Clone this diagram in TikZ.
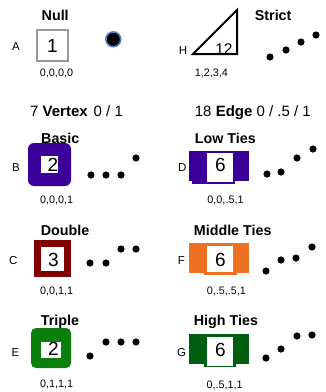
\documentclass[tikz,border=0pt]{standalone}
\usepackage{fontspec}
\setmainfont{Liberation Sans}
\usepackage{tikz}
\definecolor{nullgray}{HTML}{999999}
\definecolor{ringblue}{HTML}{4F81BD}
\definecolor{basicpurple}{HTML}{3A0099}
\definecolor{doublered}{HTML}{800000}
\definecolor{midorange}{HTML}{EE7023}
\definecolor{triplegreen}{HTML}{0B7F0B}
\definecolor{highgreen}{HTML}{005E10}

\begin{document}
\begin{tikzpicture}[
  x=1pt, y=-1pt,
  line join=miter,
  ttl/.style={font=\fontsize{14.3}{16}\selectfont\bfseries, anchor=base west, inner sep=0pt},
  hd/.style={font=\fontsize{15}{17}\selectfont, anchor=base west, inner sep=0pt},
  seq/.style={font=\fontsize{10.8}{12}\selectfont, anchor=base, inner sep=0pt},
  tag/.style={font=\fontsize{11.5}{13}\selectfont, inner sep=0pt},
  num/.style={font=\fontsize{19}{22}\selectfont, inner sep=0pt},
  pale/.style={fill=white},
]
\useasboundingbox[fill=white] (0,0) rectangle (326,392);

% row tags
\foreach \t/\x/\y in {A/16/47, H/183/50.8, B/16/167.8, D/182.3/167.8,
                      C/13.3/260.5, F/181.3/260.5, E/15.5/352.5, G/181.7/352.5} {
  \node[tag] (tag\t) at (\x,\y) {\t};
}

% top: null and strict
\node[ttl] (nullttl) at (41.5,20) {Null};
\draw[nullgray, line width=2.5pt] (37.2,30.2) rectangle (67.8,60.8);
\node[num] (nullnum) at (52.5,46.3) {1};
\node[seq] (nullseq) at (56.5,76.5) {0,0,0,0};
\filldraw[fill=black, draw=ringblue, line width=1.6pt] (113.3,39.3) circle[radius=7.4pt];

\node[ttl] (strictttl) at (254.7,20.5) {Strict};
\draw[line width=2pt] (193,54) -- (237,10) -- (237,54) -- cycle;
\node[font=\fontsize{15.5}{18}\selectfont, inner sep=0pt] (strictnum) at (224,49.5) {12};
\node[seq] (strictseq) at (211.3,76) {1,2,3,4};
\foreach \x/\y in {270/57, 286/50, 301/42, 316/35} {
  \fill (\x,\y) circle[radius=3.6pt];
}

% headings
\node[hd] (vertexhd) at (30,116.5) {7 \textbf{Vertex}\hspace{6pt}0 / 1};
\node[hd] (edgehd) at (194.7,116.5) {18 \textbf{Edge} 0 / .5 / 1};

% left column: vertex types
\node[ttl] (basicttl) at (41,143) {Basic};
\fill[basicpurple, rounded corners=6pt] (28,143) rectangle (71,186);
\fill[pale] (41,156) rectangle (58,173);
\node[num] (basicnum) at (52.8,165.3) {2};
\node[seq] (basicseq) at (56.7,203) {0,0,0,1};
\foreach \x/\y in {91/175, 106/175, 121/175, 136/158} {
  \fill (\x,\y) circle[radius=3.6pt];
}

\node[ttl] (doublettl) at (40.7,235) {Double};
\fill[doublered] (34,240) rectangle (71,277);
\fill[pale] (41,247) rectangle (64,271);
\node[num] (doublenum) at (53.3,259.7) {3};
\node[seq] (doubleseq) at (56.7,294) {0,0,1,1};
\foreach \x/\y in {90/263, 106/263, 121/249, 136/249} {
  \fill (\x,\y) circle[radius=3.6pt];
}

\node[ttl] (triplettl) at (40.7,325.5) {Triple};
\fill[triplegreen, rounded corners=5pt] (31,328) rectangle (71,368);
\fill[pale] (41,342) rectangle (61,358);
\node[num] (triplenum) at (53.3,349) {2};
\node[seq] (tripleseq) at (56.7,387.5) {0,1,1,1};
\foreach \x/\y in {90/356, 106/342, 121/342, 136/342} {
  \fill (\x,\y) circle[radius=3.6pt];
}

% right column: edge ties
\node[ttl] (lowttl) at (194.7,143) {Low Ties};
\fill[basicpurple] (189,151) rectangle (249,181);
\fill[basicpurple] (192,181) rectangle (235,184);
\fill[pale] (207,153) rectangle (233,182);
\node[num] (lownum) at (220.5,165.3) {6};
\node[seq] (lowseq) at (225.5,203) {0,0,.5,1};
\foreach \x/\y in {267/174, 281/172, 297/158, 313/149} {
  \fill (\x,\y) circle[radius=3.6pt];
}

\node[ttl] (midttl) at (193.7,235) {Middle Ties};
\fill[midorange] (189,243) rectangle (249,273);
\fill[midorange] (204,273) rectangle (237,275);
\fill[pale] (207,246) rectangle (233,272);
\node[num] (midnum) at (220.5,259.7) {6};
\node[seq] (midseq) at (226.3,294) {0,.5,.5,1};
\foreach \x/\y in {266/271, 281/260, 296/258, 312/247} {
  \fill (\x,\y) circle[radius=3.6pt];
}

\node[ttl] (highttl) at (193.7,325.7) {High Ties};
\fill[highgreen] (189,334) rectangle (249,364);
\fill[highgreen] (204,364) rectangle (236,367);
\fill[pale] (207,337) rectangle (233,366);
\node[num] (highnum) at (220.5,350) {6};
\node[seq] (highseq) at (224.7,388) {0,.5,1,1};
\foreach \x/\y in {266/358, 281/349, 297/336, 312/335} {
  \fill (\x,\y) circle[radius=3.6pt];
}
\end{tikzpicture}
\end{document}
